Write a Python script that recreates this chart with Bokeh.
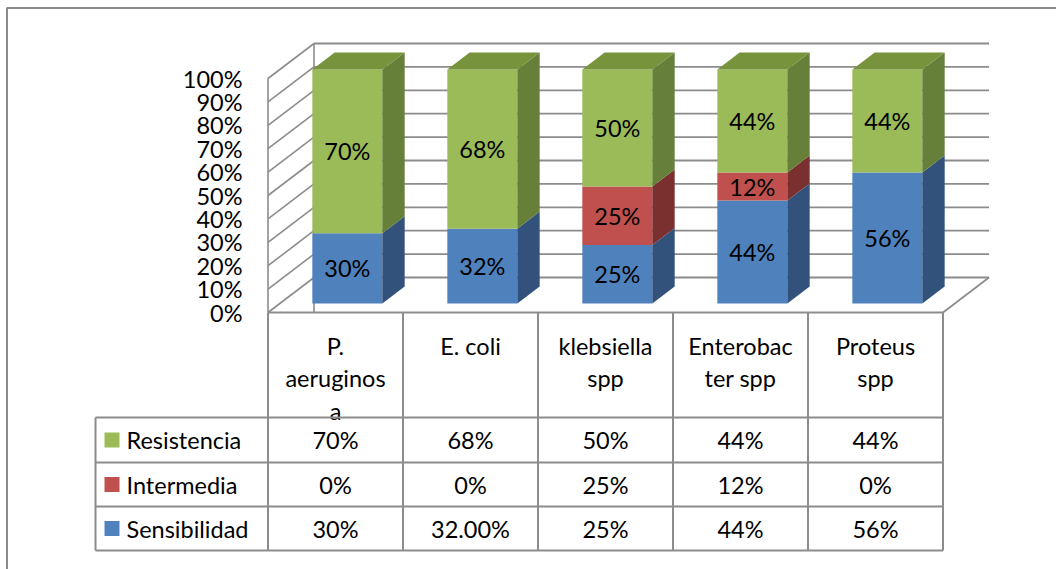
from bokeh.plotting import figure
from bokeh.models import Range1d
from bokeh.core.properties import value
from bokeh.embed import file_html
from bokeh.resources import INLINE

# ---- data -------------------------------------------------------------
organisms = ["P. aeruginosa", "E. coli", "klebsiella spp", "Enterobacter spp", "Proteus spp"]
header_lines = [["P.", "aeruginos", "a"], ["E. coli"], ["klebsiella", "spp"],
                ["Enterobac", "ter spp"], ["Proteus", "spp"]]
series_names = ["Sensibilidad", "Intermedia", "Resistencia"]
sensibilidad = [30, 32, 25, 44, 56]
intermedia = [0, 0, 25, 12, 0]
resistencia = [70, 68, 50, 44, 44]
sens_decimals = [0, 2, 0, 0, 0]          # the table shows 32.00% for E. coli
y_ticks = [0, 10, 20, 30, 40, 50, 60, 70, 80, 90, 100]

series_values = {"Sensibilidad": sensibilidad, "Intermedia": intermedia, "Resistencia": resistencia}
front_col = {"Sensibilidad": "#4F81BD", "Intermedia": "#C0504D", "Resistencia": "#9BBB59"}
side_col = {"Sensibilidad": "#32527B", "Intermedia": "#7A302E", "Resistencia": "#66803A"}
top_col = {"Sensibilidad": "#3F6797", "Intermedia": "#9A403D", "Resistencia": "#77933C"}

# ---- canvas geometry (x: category index, y: percent) ----------------------
W, H = 1056, 569
X0, CW = 335.0, 135.0        # pixel of category 0 centre, pixels per category
Y0, PPP = 312.0, 2.34        # pixel of 0 %, pixels per percent


def gx(px):
    return (px - X0) / CW


def gy(py):
    return (Y0 - py) / PPP


DX = 46.0 / CW               # oblique depth offset
DY = 35.0 / PPP
D0, D1 = 0.257, 0.743        # bar depth span inside the box
HW = 35.0 / CW               # half bar width
LEFT, RIGHT = -0.5, len(organisms) - 0.5

FONT = value("Lato")
FS = "23.5px"
GRID = "#8C8C8C"

p = figure(width=W, height=H, output_backend="svg", toolbar_location=None,
           x_range=Range1d(gx(0), gx(W)), y_range=Range1d(gy(H), gy(0)),
           x_axis_location=None, y_axis_location=None, min_border=0,
           outline_line_color=None, background_fill_color="white")
p.grid.visible = False

# outer chart frame
p.line([gx(6.5), gx(6.5), gx(W)], [gy(H), gy(7.5), gy(7.5)], line_color="#8A8A8A", line_width=2)

# back wall gridlines and left wall diagonals
for v in y_ticks:
    p.line([LEFT + DX, RIGHT + DX], [v + DY, v + DY], line_color=GRID, line_width=1.8)
    p.line([LEFT, LEFT + DX], [v, v + DY], line_color=GRID, line_width=1.6)
p.line([LEFT, LEFT], [0, 100], line_color=GRID, line_width=1.6)
p.line([LEFT + DX, LEFT + DX], [0, 100 + DY], line_color=GRID, line_width=1.6)
# floor edges
p.line([RIGHT, RIGHT + DX], [0, DY], line_color=GRID, line_width=1.8)

# y tick labels on the front plane
p.text(x=[gx(242)] * len(y_ticks), y=y_ticks, text=[f"{v}%" for v in y_ticks],
       text_align="right", text_baseline="middle", text_font=FONT, text_font_size=FS,
       text_color="black")

# ---- 3-D stacked columns -------------------------------------------------
n = len(organisms)
base = [0.0] * n
lab_x, lab_y, lab_t = [], [], []
tops = [0.0] * n
top_series = [None] * n
for s in series_names:
    vals = series_values[s]
    fl, fr, fb, ft = [], [], [], []
    sx, sy = [], []
    for i in range(n):
        b, t = base[i], base[i] + vals[i]
        if vals[i] > 0:
            fl.append(i - HW + D0 * DX)
            fr.append(i + HW + D0 * DX)
            fb.append(b + D0 * DY)
            ft.append(t + D0 * DY)
            xr0, xr1 = i + HW + D0 * DX, i + HW + D1 * DX
            sx.append([xr0, xr1, xr1, xr0])
            sy.append([b + D0 * DY, b + D1 * DY, t + D1 * DY, t + D0 * DY])
            lab_x.append(i + D0 * DX)
            lab_y.append((b + t) / 2 + D0 * DY)
            lab_t.append(f"{vals[i]}%")
            tops[i] = t
            top_series[i] = s
        base[i] = t
    p.quad(left=fl, right=fr, bottom=fb, top=ft, fill_color=front_col[s], line_color=None)
    p.patches(sx, sy, fill_color=side_col[s], line_color=None)

# top faces of each column
for s in series_names:
    tx, ty = [], []
    for i in range(n):
        if top_series[i] == s:
            t = tops[i]
            tx.append([i - HW + D0 * DX, i + HW + D0 * DX, i + HW + D1 * DX, i - HW + D1 * DX])
            ty.append([t + D0 * DY, t + D0 * DY, t + D1 * DY, t + D1 * DY])
    if tx:
        p.patches(tx, ty, fill_color=top_col[s], line_color=None)

p.text(x=lab_x, y=lab_y, text=lab_t, text_align="center", text_baseline="middle",
       text_font=FONT, text_font_size=FS, text_color="black")

# ---- data table ----------------------------------------------------------
hdr_x, hdr_y, hdr_t = [], [], []
for i, lines in enumerate(header_lines):
    for k, ln in enumerate(lines):
        hdr_x.append(i)
        hdr_y.append(gy(345 + 32.5 * k))
        hdr_t.append(ln)
p.text(x=hdr_x, y=hdr_y, text=hdr_t, text_align="center", text_baseline="middle",
       text_font=FONT, text_font_size=FS, text_color="black")

row_order = ["Resistencia", "Intermedia", "Sensibilidad"]
row_edges = [417, 462, 506, 550]
cell_x, cell_y, cell_t = [], [], []
for r, s in enumerate(row_order):
    cy = gy((row_edges[r] + row_edges[r + 1]) / 2)
    for i in range(n):
        v = series_values[s][i]
        dec = sens_decimals[i] if s == "Sensibilidad" else 0
        cell_x.append(i)
        cell_y.append(cy)
        cell_t.append(f"{v:.{dec}f}%")
    # legend key and series name
    p.rect(x=[gx(111.5)], y=[cy], width=15 / CW, height=15 / PPP,
           fill_color=front_col[s], line_color=None)
    p.text(x=[gx(126)], y=[cy], text=[s], text_align="left", text_baseline="middle",
           text_font=FONT, text_font_size=FS, text_color="black")
p.text(x=cell_x, y=cell_y, text=cell_t, text_align="center", text_baseline="middle",
       text_font=FONT, text_font_size=FS, text_color="black")

# table rules
p.line([LEFT, RIGHT], [0, 0], line_color=GRID, line_width=2)
for e in row_edges:
    p.line([gx(95), RIGHT], [gy(e), gy(e)], line_color=GRID, line_width=2)
p.line([gx(95), gx(95)], [gy(417), gy(550)], line_color=GRID, line_width=2)
for k in range(n + 1):
    xb = LEFT + k
    p.line([xb, xb], [0, gy(550)], line_color=GRID, line_width=2)

open("out.html", "w").write(file_html(p, INLINE))
